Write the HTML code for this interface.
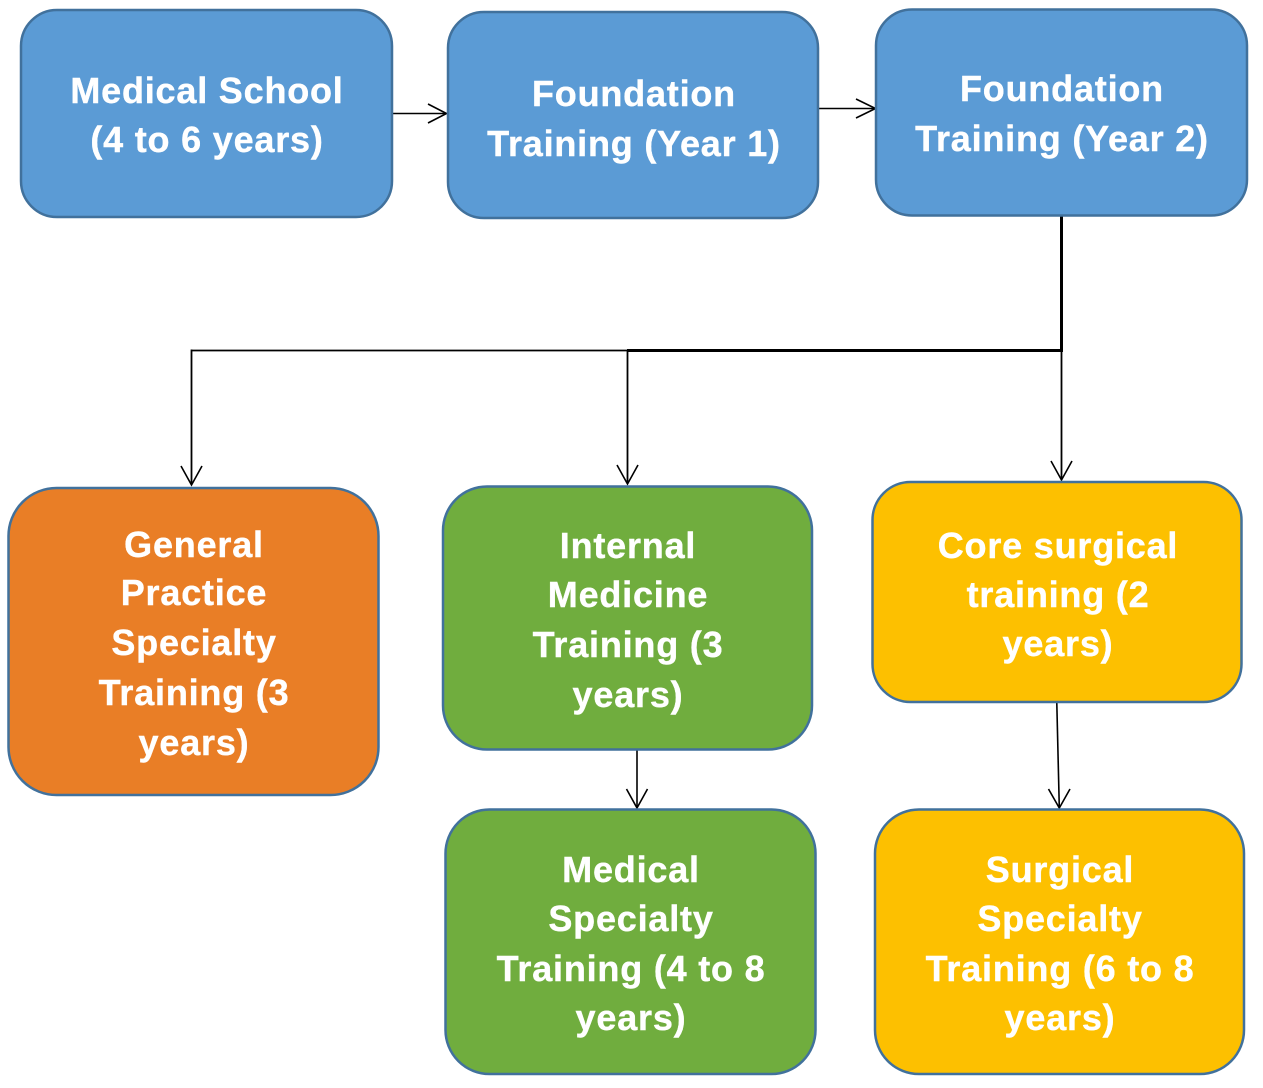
<!DOCTYPE html>
<html>
<head>
<meta charset="utf-8">
<style>
  html, body { margin: 0; padding: 0; background: #ffffff; }
  body { width: 1263px; height: 1088px; overflow: hidden; }
  svg { display: block; }
  text { font-family: "Liberation Sans", Arial, sans-serif; font-weight: bold; font-size: 36px; fill: #ffffff; stroke: #ffffff; stroke-width: 0.4px; letter-spacing: 0.8px; }
</style>
</head>
<body>
<svg width="1263" height="1088" viewBox="0 0 1263 1088" xmlns="http://www.w3.org/2000/svg">
  <rect x="0" y="0" width="1263" height="1088" fill="#ffffff"/>

  <!-- connectors -->
  <g stroke="#000" fill="none" stroke-linecap="butt">
    <line x1="392" y1="113.5" x2="446" y2="113.5" stroke-width="1.6"/>
    <polyline points="428,104 446.5,113.5 428,123" stroke-width="1.6"/>
    <line x1="818" y1="108.5" x2="875" y2="108.5" stroke-width="1.6"/>
    <polyline points="856,99 875.5,108.5 856,118" stroke-width="1.6"/>
    <line x1="1061.5" y1="216" x2="1061.5" y2="352" stroke-width="3"/>
    <line x1="627" y1="350.5" x2="1063" y2="350.5" stroke-width="3"/>
    <line x1="191.5" y1="350.5" x2="628" y2="350.5" stroke-width="1.8"/>
    <line x1="191.5" y1="349.5" x2="191.5" y2="485" stroke-width="1.8"/>
    <polyline points="181,466 191.5,485 202,466" stroke-width="1.6"/>
    <line x1="627.5" y1="351" x2="627.5" y2="484" stroke-width="1.8"/>
    <polyline points="617,465 627.5,484 638,465" stroke-width="1.6"/>
    <line x1="1061.5" y1="351" x2="1061.5" y2="480" stroke-width="1.8"/>
    <polyline points="1051,461 1061.5,480 1072,461" stroke-width="1.6"/>
    <line x1="637" y1="749" x2="637" y2="808" stroke-width="1.6"/>
    <polyline points="626.5,789 637,808 647.5,789" stroke-width="1.6"/>
    <line x1="1056.8" y1="703" x2="1059.3" y2="808" stroke-width="1.6"/>
    <polyline points="1048.5,789 1059.3,808 1070,789" stroke-width="1.6"/>
  </g>

  <!-- boxes -->
  <g stroke="#41719c" stroke-width="2.5">
    <rect x="21" y="10" width="371" height="207" rx="36" ry="36" fill="#5b9bd5"/>
    <rect x="448" y="12" width="370" height="206" rx="36" ry="36" fill="#5b9bd5"/>
    <rect x="876" y="9.5" width="371" height="206" rx="36" ry="36" fill="#5b9bd5"/>
    <rect x="8.5" y="488" width="370" height="307" rx="48" ry="48" fill="#e97e26"/>
    <rect x="443" y="486.5" width="369" height="263" rx="44" ry="44" fill="#70ad3e"/>
    <rect x="872.5" y="482" width="369" height="220" rx="38" ry="38" fill="#fdc000"/>
    <rect x="445.5" y="809.5" width="370" height="264.5" rx="44" ry="44" fill="#70ad3e"/>
    <rect x="875" y="809.5" width="369" height="264.5" rx="44" ry="44" fill="#fdc000"/>
  </g>

  <!-- labels -->
  <g text-anchor="middle">
    <text x="207" y="103">Medical School</text>
    <text x="207" y="152">(4 to 6 years)</text>

    <text x="634" y="106">Foundation</text>
    <text x="634" y="156">Training (Year 1)</text>

    <text x="1062" y="101">Foundation</text>
    <text x="1062" y="151">Training (Year 2)</text>

    <text x="194" y="557">General</text>
    <text x="194" y="605">Practice</text>
    <text x="194" y="655">Specialty</text>
    <text x="194" y="705">Training (3</text>
    <text x="194" y="755">years)</text>

    <text x="628" y="558">Internal</text>
    <text x="628" y="607">Medicine</text>
    <text x="628" y="657">Training (3</text>
    <text x="628" y="707">years)</text>

    <text x="1058" y="558">Core surgical</text>
    <text x="1058" y="607">training (2</text>
    <text x="1058" y="656">years)</text>

    <text x="631" y="882">Medical</text>
    <text x="631" y="931">Specialty</text>
    <text x="631" y="981">Training (4 to 8</text>
    <text x="631" y="1030">years)</text>

    <text x="1060" y="882">Surgical</text>
    <text x="1060" y="931">Specialty</text>
    <text x="1060" y="981">Training (6 to 8</text>
    <text x="1060" y="1030">years)</text>
  </g>
</svg>
</body>
</html>
